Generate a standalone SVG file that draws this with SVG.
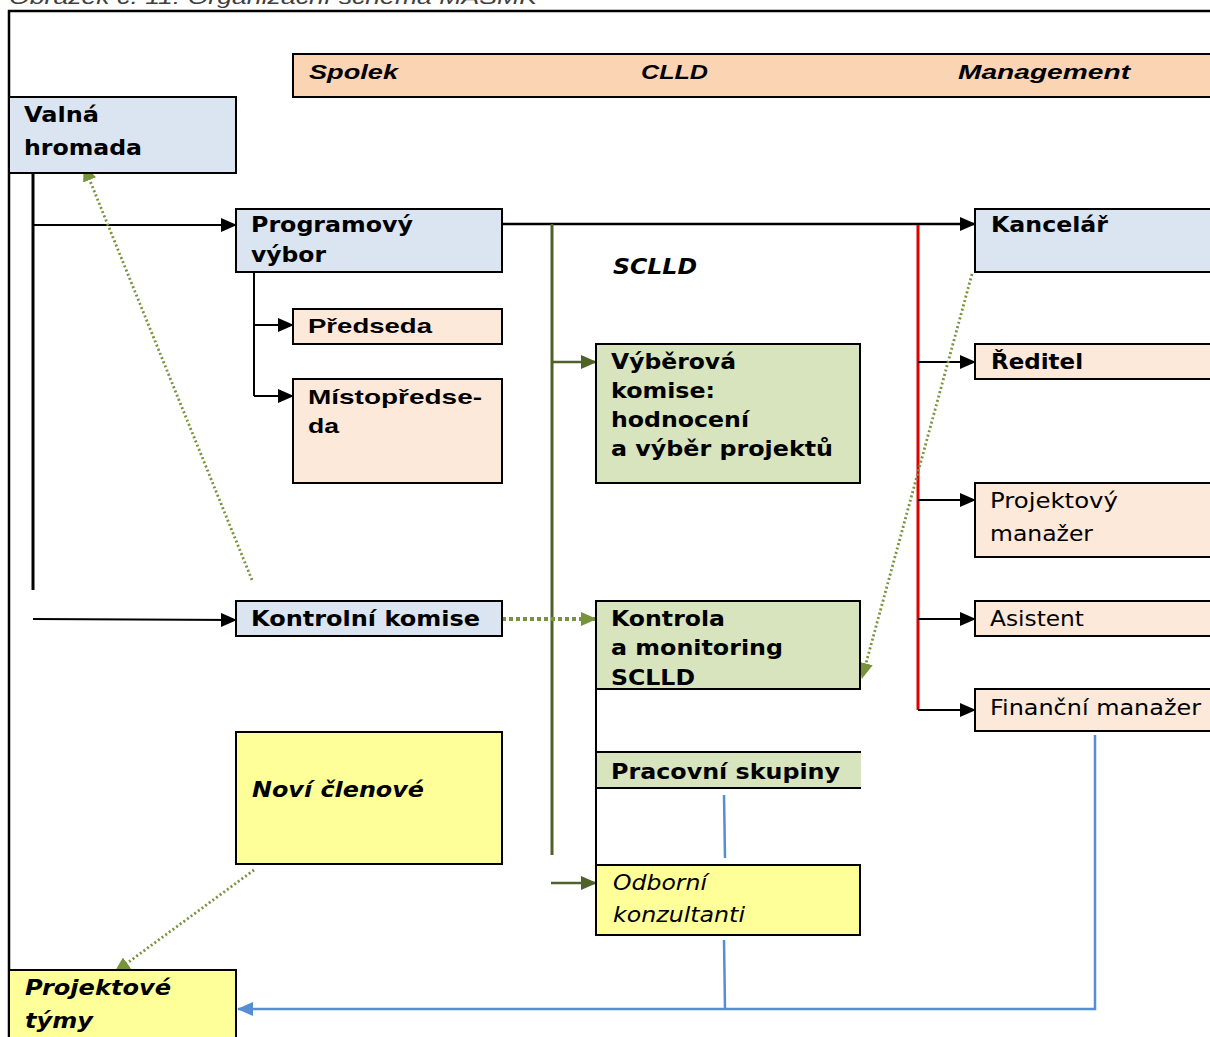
<svg xmlns="http://www.w3.org/2000/svg" width="1210" height="1037" viewBox="0 0 1210 1037">
<style>
.box{stroke:#000;stroke-width:2}
.blue{fill:#DBE5F1}
.peach{fill:#FDE9D9}
.green{fill:#D7E4BD}
.yellow{fill:#FFFF99}
.t{font-family:"DejaVu Sans",Verdana,sans-serif;font-size:21px;fill:#000}
.b{font-weight:bold}
.i{font-style:italic}
.a{font-family:"Liberation Sans",Arial,sans-serif;font-size:21px;font-weight:bold;fill:#000}
.blk{stroke:#000;fill:none}
.dot{stroke:#77933C;fill:none;stroke-width:2.8;stroke-dasharray:2 2.5}
.bl{stroke:#558ED5;fill:none;stroke-width:2.5}
</style>
<defs>
<marker id="ab" markerUnits="userSpaceOnUse" markerWidth="16" markerHeight="14" refX="15" refY="7" orient="auto"><path d="M0,0 L16,7 L0,14 Z" fill="#000"/></marker>
<marker id="ao" markerUnits="userSpaceOnUse" markerWidth="16" markerHeight="14" refX="15" refY="7" orient="auto"><path d="M0,0 L16,7 L0,14 Z" fill="#4F6228"/></marker>
<marker id="ag" markerUnits="userSpaceOnUse" markerWidth="16" markerHeight="14" refX="15" refY="7" orient="auto"><path d="M0,0 L16,7 L0,14 Z" fill="#77933C"/></marker>
<marker id="au" markerUnits="userSpaceOnUse" markerWidth="16" markerHeight="14" refX="15" refY="7" orient="auto"><path d="M0,0 L16,7 L0,14 Z" fill="#558ED5"/></marker>
</defs>

<text x="9" y="4" font-family="Liberation Sans,Arial,sans-serif" font-size="20" font-style="italic" fill="#404040" textLength="528" lengthAdjust="spacingAndGlyphs">Obrázek č. 11: Organizační schéma MASMK</text>
<path d="M9,1037 V11 H1212" stroke="#000" stroke-width="2.5" fill="none"/>

<g id="header">
<rect x="293" y="54" width="930" height="43" fill="#FBD4B4" class="box"/>
<text x="309" y="79" class="a i" textLength="89" lengthAdjust="spacingAndGlyphs">Spolek</text>
<text x="641" y="79" class="a i" textLength="67" lengthAdjust="spacingAndGlyphs">CLLD</text>
<text x="958" y="79" class="a i" textLength="172" lengthAdjust="spacingAndGlyphs">Management</text>
</g>

<g id="connectors">
<line x1="33" y1="173" x2="33" y2="590" class="blk" stroke-width="3"/>
<line x1="33" y1="225" x2="236" y2="225" class="blk" stroke-width="1.8" marker-end="url(#ab)"/>
<line x1="33" y1="619" x2="236" y2="620" class="blk" stroke-width="1.8" marker-end="url(#ab)"/>
<line x1="502" y1="224" x2="975" y2="224" class="blk" stroke-width="2.5" marker-end="url(#ab)"/>
<path d="M254,272 V396" class="blk" stroke-width="2"/>
<line x1="254" y1="325" x2="293" y2="325" class="blk" stroke-width="2" marker-end="url(#ab)"/>
<line x1="254" y1="396" x2="293" y2="396" class="blk" stroke-width="2" marker-end="url(#ab)"/>
<line x1="552" y1="224" x2="552" y2="855" stroke="#4F6228" stroke-width="3"/>
<line x1="552" y1="362" x2="596" y2="362" stroke="#4F6228" stroke-width="2.5" marker-end="url(#ao)"/>
<line x1="551" y1="883" x2="596" y2="883" stroke="#4F6228" stroke-width="2.5" marker-end="url(#ao)"/>
<line x1="918" y1="225" x2="918" y2="710" stroke="#E00000" stroke-width="3"/>
<line x1="918" y1="362" x2="975" y2="362" class="blk" stroke-width="1.8" marker-end="url(#ab)"/>
<line x1="918" y1="500" x2="975" y2="500" class="blk" stroke-width="1.8" marker-end="url(#ab)"/>
<line x1="918" y1="619" x2="975" y2="619" class="blk" stroke-width="1.8" marker-end="url(#ab)"/>
<line x1="918" y1="710" x2="975" y2="710" class="blk" stroke-width="1.8" marker-end="url(#ab)"/>
<line x1="596" y1="689" x2="596" y2="865" class="blk" stroke-width="2"/>
<line x1="252" y1="580" x2="84" y2="166" class="dot" marker-end="url(#ag)"/>
<line x1="972" y1="274" x2="862" y2="678" class="dot" marker-end="url(#ag)"/>
<line x1="254" y1="870" x2="115" y2="972" class="dot" marker-end="url(#ag)"/>
<line x1="502" y1="619" x2="596" y2="619" stroke="#77933C" stroke-width="4" stroke-dasharray="4 3" marker-end="url(#ag)"/>
<line x1="724" y1="795" x2="725" y2="858" class="bl"/>
<line x1="724" y1="940" x2="725" y2="1009" class="bl"/>
<path d="M1095,735 V1009 H238" class="bl" marker-end="url(#au)"/>
</g>

<g id="valna">
<rect x="9" y="97" width="227" height="76" class="box blue"/>
<text x="24" y="122" class="t b" textLength="75" lengthAdjust="spacingAndGlyphs">Valná</text>
<text x="24" y="155" class="t b" textLength="118" lengthAdjust="spacingAndGlyphs">hromada</text>
</g>
<g id="programovy">
<rect x="236" y="209" width="266" height="63" class="box blue"/>
<text x="251" y="232" class="t b" textLength="162" lengthAdjust="spacingAndGlyphs">Programový</text>
<text x="251" y="262" class="t b" textLength="75" lengthAdjust="spacingAndGlyphs">výbor</text>
</g>
<g id="sclld-label">
<text x="613" y="274" class="t b i" textLength="84" lengthAdjust="spacingAndGlyphs">SCLLD</text>
</g>
<g id="predseda">
<rect x="293" y="309" width="209" height="35" class="box peach"/>
<text x="308" y="333" class="a" textLength="124" lengthAdjust="spacingAndGlyphs">Předseda</text>
</g>
<g id="mistopredseda">
<rect x="293" y="379" width="209" height="104" class="box peach"/>
<text x="308" y="404" class="a" textLength="174" lengthAdjust="spacingAndGlyphs">Místopředse-</text>
<text x="308" y="433" class="a" textLength="31" lengthAdjust="spacingAndGlyphs">da</text>
</g>
<g id="vyberova">
<rect x="596" y="344" width="264" height="139" class="box green"/>
<text x="611" y="369" class="t b" textLength="125" lengthAdjust="spacingAndGlyphs">Výběrová</text>
<text x="611" y="398" class="t b" textLength="104" lengthAdjust="spacingAndGlyphs">komise:</text>
<text x="611" y="427" class="t b" textLength="138" lengthAdjust="spacingAndGlyphs">hodnocení</text>
<text x="611" y="456" class="t b" textLength="222" lengthAdjust="spacingAndGlyphs">a výběr projektů</text>
</g>
<g id="kancelar">
<rect x="975" y="209" width="250" height="63" class="box blue"/>
<text x="991" y="232" class="t b" textLength="117" lengthAdjust="spacingAndGlyphs">Kancelář</text>
</g>
<g id="reditel">
<rect x="975" y="344" width="250" height="35" class="box peach"/>
<text x="991" y="369" class="t b" textLength="92" lengthAdjust="spacingAndGlyphs">Ředitel</text>
</g>
<g id="projektovy-manazer">
<rect x="975" y="483" width="250" height="74" class="box peach"/>
<text x="990" y="508" class="t" textLength="128" lengthAdjust="spacingAndGlyphs">Projektový</text>
<text x="990" y="541" class="t" textLength="103" lengthAdjust="spacingAndGlyphs">manažer</text>
</g>
<g id="asistent">
<rect x="975" y="601" width="250" height="35" class="box peach"/>
<text x="990" y="626" class="t" textLength="94" lengthAdjust="spacingAndGlyphs">Asistent</text>
</g>
<g id="financni">
<rect x="975" y="689" width="250" height="42" class="box peach"/>
<text x="990" y="715" class="t" textLength="211" lengthAdjust="spacingAndGlyphs">Finanční manažer</text>
</g>
<g id="kontrolni">
<rect x="236" y="601" width="266" height="35" class="box blue"/>
<text x="251" y="626" class="t b" textLength="229" lengthAdjust="spacingAndGlyphs">Kontrolní komise</text>
</g>
<g id="kontrola">
<rect x="596" y="601" width="264" height="88" class="box green"/>
<text x="611" y="626" class="t b" textLength="114" lengthAdjust="spacingAndGlyphs">Kontrola</text>
<text x="611" y="655" class="t b" textLength="172" lengthAdjust="spacingAndGlyphs">a monitoring</text>
<text x="611" y="685" class="t b" textLength="84" lengthAdjust="spacingAndGlyphs">SCLLD</text>
</g>
<g id="pracovni">
<rect x="596" y="752" width="265" height="36" class="green"/>
<path d="M596,752 H861 M596,788 H861 M596,752 V788" class="blk" stroke-width="2"/>
<text x="611" y="779" class="t b" textLength="229" lengthAdjust="spacingAndGlyphs">Pracovní skupiny</text>
</g>
<g id="novi">
<rect x="236" y="732" width="266" height="132" class="box yellow"/>
<text x="252" y="797" class="t b i" textLength="172" lengthAdjust="spacingAndGlyphs">Noví členové</text>
</g>
<g id="odborni">
<rect x="596" y="865" width="264" height="70" class="box yellow"/>
<text x="613" y="890" class="t i" textLength="94" lengthAdjust="spacingAndGlyphs">Odborní</text>
<text x="613" y="922" class="t i" textLength="132" lengthAdjust="spacingAndGlyphs">konzultanti</text>
</g>
<g id="tymy">
<rect x="9" y="970" width="227" height="80" class="box yellow"/>
<text x="25" y="995" class="t b i" textLength="146" lengthAdjust="spacingAndGlyphs">Projektové</text>
<text x="25" y="1028" class="t b i" textLength="68" lengthAdjust="spacingAndGlyphs">týmy</text>
</g>
</svg>
